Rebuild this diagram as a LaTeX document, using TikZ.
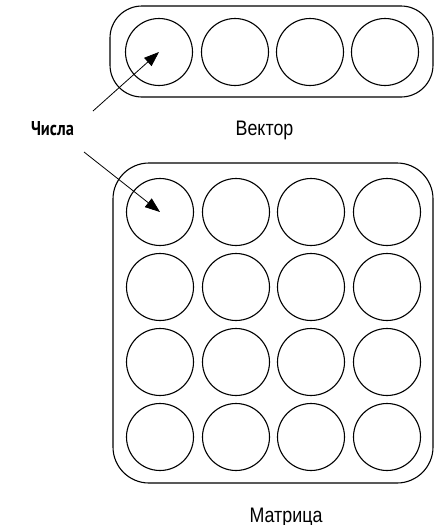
\documentclass[tikz,border=0pt]{standalone}
\usepackage{fontspec}
\setmainfont{Liberation Sans}
\newfontfamily\labelfont{PT Sans}
\usetikzlibrary{arrows.meta}
\begin{document}
\begin{tikzpicture}[x=1pt,y=-1pt,
  cell/.style={draw,line width=1.1pt,circle,minimum size=67pt,inner sep=0pt},
  frame/.style={draw,line width=1.1pt,rounded corners=32pt},
  pointer/.style={line width=0.8pt,-{Triangle[length=15pt,width=11pt]}},
  caption/.style={font=\fontsize{21}{24}\selectfont,inner sep=0pt,anchor=base}]
\useasboundingbox (0,0) rectangle (438,525);
% vector
\draw[frame] (110,6) rectangle (433,97);
\foreach \i/\x in {1/159,2/235,3/310,4/385}
  \node[cell] (v\i) at (\x,52) {};
\node[caption] (vlab) at (264.5,135) {\scalebox{0.85}[1]{Вектор}};
% matrix
\draw[frame,rounded corners=36pt] (113,163) rectangle (433,483);
\foreach \r/\y in {1/212,2/287,3/362,4/437}
  \foreach \c/\x in {1/160,2/236,3/311,4/387}
    \node[cell] (m\r\c) at (\x,\y) {};
\node[caption] (mlab) at (286,522) {\scalebox{0.85}[1]{Матрица}};
% label and pointers
\node[inner sep=0pt,anchor=base,font=\labelfont\bfseries\fontsize{20}{22}\selectfont] (num) at (52.5,135) {\scalebox{0.82}[1]{Числа}};
\coordinate (s1) at (93,111);
\coordinate (s2) at (84,152);
\draw[pointer] (s1) -- (v1.center);
\draw[pointer] (s2) -- (m11.center);
\end{tikzpicture}
\end{document}
